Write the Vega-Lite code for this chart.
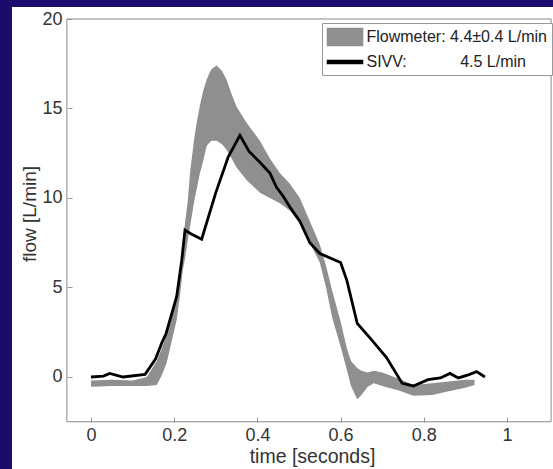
{
  "$schema": "https://vega.github.io/schema/vega-lite/v6.json",
  "width": 541,
  "height": 462,
  "autosize": {"type": "none"},
  "padding": {"left": 12, "top": 7, "right": 0, "bottom": 0},
  "background": "#1a0c6a",
  "config": {"view": {"fill": "white", "stroke": null}, "font": "Liberation Sans"},
  "datasets": {
    "band": [
      {"t": 0.000, "lo": -0.55, "hi": -0.20},
      {"t": 0.050, "lo": -0.50, "hi": -0.15},
      {"t": 0.100, "lo": -0.50, "hi": -0.20},
      {"t": 0.134, "lo": -0.50, "hi": 0.00},
      {"t": 0.158, "lo": -0.45, "hi": 0.90},
      {"t": 0.170, "lo": 0.10, "hi": 1.60},
      {"t": 0.182, "lo": 0.80, "hi": 2.40},
      {"t": 0.194, "lo": 2.00, "hi": 3.50},
      {"t": 0.206, "lo": 3.20, "hi": 4.80},
      {"t": 0.214, "lo": 4.60, "hi": 6.20},
      {"t": 0.221, "lo": 6.00, "hi": 7.60},
      {"t": 0.226, "lo": 6.60, "hi": 8.60},
      {"t": 0.233, "lo": 7.70, "hi": 9.90},
      {"t": 0.238, "lo": 8.40, "hi": 11.40},
      {"t": 0.248, "lo": 9.80, "hi": 13.30},
      {"t": 0.254, "lo": 10.50, "hi": 14.20},
      {"t": 0.262, "lo": 11.40, "hi": 15.20},
      {"t": 0.270, "lo": 12.10, "hi": 16.00},
      {"t": 0.278, "lo": 12.90, "hi": 16.60},
      {"t": 0.285, "lo": 13.10, "hi": 17.00},
      {"t": 0.290, "lo": 13.20, "hi": 17.20},
      {"t": 0.302, "lo": 13.20, "hi": 17.40},
      {"t": 0.315, "lo": 13.00, "hi": 17.10},
      {"t": 0.326, "lo": 12.70, "hi": 16.60},
      {"t": 0.338, "lo": 12.20, "hi": 15.80},
      {"t": 0.350, "lo": 11.70, "hi": 15.10},
      {"t": 0.374, "lo": 11.00, "hi": 14.20},
      {"t": 0.406, "lo": 10.30, "hi": 13.20},
      {"t": 0.430, "lo": 10.00, "hi": 12.20},
      {"t": 0.454, "lo": 9.70, "hi": 11.40},
      {"t": 0.478, "lo": 9.30, "hi": 10.80},
      {"t": 0.502, "lo": 8.60, "hi": 10.00},
      {"t": 0.526, "lo": 7.50, "hi": 8.70},
      {"t": 0.550, "lo": 6.40, "hi": 7.40},
      {"t": 0.565, "lo": 5.00, "hi": 6.20},
      {"t": 0.580, "lo": 3.30, "hi": 4.80},
      {"t": 0.600, "lo": 1.70, "hi": 3.10},
      {"t": 0.615, "lo": 0.40, "hi": 1.60},
      {"t": 0.625, "lo": -0.50, "hi": 0.90},
      {"t": 0.640, "lo": -1.25, "hi": 0.50},
      {"t": 0.650, "lo": -1.00, "hi": 0.35},
      {"t": 0.665, "lo": -0.55, "hi": 0.25},
      {"t": 0.680, "lo": -0.35, "hi": 0.35},
      {"t": 0.700, "lo": -0.50, "hi": 0.25},
      {"t": 0.740, "lo": -0.75, "hi": -0.10},
      {"t": 0.775, "lo": -1.05, "hi": -0.45},
      {"t": 0.820, "lo": -1.00, "hi": -0.35},
      {"t": 0.860, "lo": -0.80, "hi": -0.25},
      {"t": 0.900, "lo": -0.60, "hi": -0.15},
      {"t": 0.922, "lo": -0.45, "hi": -0.15}
    ],
    "sivv": [
      {"t": 0.000, "v": 0.00},
      {"t": 0.030, "v": 0.05},
      {"t": 0.045, "v": 0.20},
      {"t": 0.077, "v": 0.00},
      {"t": 0.130, "v": 0.15},
      {"t": 0.155, "v": 1.00},
      {"t": 0.170, "v": 1.90},
      {"t": 0.180, "v": 2.40},
      {"t": 0.206, "v": 4.50},
      {"t": 0.218, "v": 6.50},
      {"t": 0.226, "v": 8.20},
      {"t": 0.240, "v": 8.00},
      {"t": 0.266, "v": 7.70},
      {"t": 0.300, "v": 10.30},
      {"t": 0.330, "v": 12.30},
      {"t": 0.358, "v": 13.50},
      {"t": 0.380, "v": 12.60},
      {"t": 0.406, "v": 12.00},
      {"t": 0.430, "v": 11.40},
      {"t": 0.446, "v": 10.60},
      {"t": 0.462, "v": 10.10},
      {"t": 0.478, "v": 9.50},
      {"t": 0.502, "v": 8.70},
      {"t": 0.526, "v": 7.50},
      {"t": 0.550, "v": 6.90},
      {"t": 0.600, "v": 6.40},
      {"t": 0.615, "v": 5.40},
      {"t": 0.640, "v": 3.00},
      {"t": 0.670, "v": 2.20},
      {"t": 0.710, "v": 1.10},
      {"t": 0.748, "v": -0.35},
      {"t": 0.775, "v": -0.50},
      {"t": 0.810, "v": -0.15},
      {"t": 0.840, "v": -0.05},
      {"t": 0.863, "v": 0.20},
      {"t": 0.883, "v": -0.05},
      {"t": 0.905, "v": 0.10},
      {"t": 0.927, "v": 0.30},
      {"t": 0.947, "v": 0.00}
    ]
  },
  "layer": [
    {
      "data": {"name": "band"},
      "mark": {"type": "area", "opacity": 1},
      "encoding": {
        "x": {
          "field": "t", "type": "quantitative",
          "scale": {"domain": [-0.1899, 1.1106], "nice": false, "zero": false},
          "axis": {
            "values": [0, 0.2, 0.4, 0.6, 0.8, 1], "format": "~g",
            "domain": false, "grid": false, "offset": -47,
            "tickSize": -5, "tickColor": "#999999",
            "labelFontSize": 18, "labelColor": "#333333", "labelPadding": 9,
            "title": "time [seconds]", "titleFontSize": 19.5, "titleFontWeight": "normal",
            "titleColor": "#333333", "titleX": 300, "titleY": 40, "titleBaseline": "alphabetic"
          }
        },
        "y": {
          "field": "lo", "type": "quantitative",
          "scale": {"domain": [-5.1397, 20.6704], "nice": false, "zero": false},
          "axis": {
            "values": [0, 5, 10, 15, 20],
            "domain": false, "grid": false, "offset": -55,
            "tickSize": -5, "tickColor": "#999999",
            "labelFontSize": 18, "labelColor": "#333333", "labelPadding": 10,
            "title": "flow [L/min]", "titleFontSize": 19, "titleFontWeight": "normal",
            "titleColor": "#333333", "titleX": -32, "titleY": 206.5, "titleBaseline": "alphabetic"
          }
        },
        "y2": {"field": "hi"},
        "color": {
          "datum": "Flowmeter: 4.4±0.4 L/min", "type": "nominal",
          "scale": {
            "domain": ["Flowmeter: 4.4±0.4 L/min", "SIVV:\u00a0\u00a0\u00a0\u00a0\u00a0\u00a0\u00a0\u00a0\u00a0\u00a0\u00a0\u00a04.5 L/min"],
            "range": ["#8f8f8f", "#000000"]
          },
          "legend": {
            "orient": "none", "legendX": 310, "legendY": 16, "title": null,
            "symbolSize": 289, "labelOffset": 21, "labelFontSize": 16,
            "symbolType": {"expr": "datum.index === 0 ? 'M-1,-1H3.12V1H-1Z' : 'M-1,-0.18H3.12V0.18H-1Z'"},
            "symbolOpacity": 1,
            "labelColor": "#222222", "labelLimit": 400, "padding": 4.5, "rowPadding": 4,
            "strokeColor": "#999999", "fillColor": "white"
          }
        }
      }
    },
    {
      "data": {"name": "sivv"},
      "mark": {"type": "line", "strokeWidth": 2.8},
      "encoding": {
        "x": {"field": "t", "type": "quantitative", "title": "time [seconds]"},
        "y": {"field": "v", "type": "quantitative", "title": "flow [L/min]"},
        "color": {"datum": "SIVV:\u00a0\u00a0\u00a0\u00a0\u00a0\u00a0\u00a0\u00a0\u00a0\u00a0\u00a0\u00a04.5 L/min", "type": "nominal"}
      }
    },
    {
      "data": {"values": [{}]},
      "mark": {"type": "rule", "color": "#8a8a8a", "strokeWidth": 1},
      "encoding": {"x": {"datum": -0.058, "type": "quantitative"}, "y": {"datum": -2.5, "type": "quantitative"}, "y2": {"datum": 20}}
    },
    {
      "data": {"values": [{}]},
      "mark": {"type": "rule", "color": "#8a8a8a", "strokeWidth": 1},
      "encoding": {"x": {"datum": 1.106, "type": "quantitative"}, "y": {"datum": -2.5, "type": "quantitative"}, "y2": {"datum": 20}}
    },
    {
      "data": {"values": [{}]},
      "mark": {"type": "rule", "color": "#8a8a8a", "strokeWidth": 1},
      "encoding": {"y": {"datum": -2.5, "type": "quantitative"}, "x": {"datum": -0.058, "type": "quantitative"}, "x2": {"datum": 1.106}}
    },
    {
      "data": {"values": [{}]},
      "mark": {"type": "rule", "color": "#8a8a8a", "strokeWidth": 1},
      "encoding": {"y": {"datum": 20, "type": "quantitative"}, "x": {"datum": -0.058, "type": "quantitative"}, "x2": {"datum": 1.106}}
    }
  ]
}
